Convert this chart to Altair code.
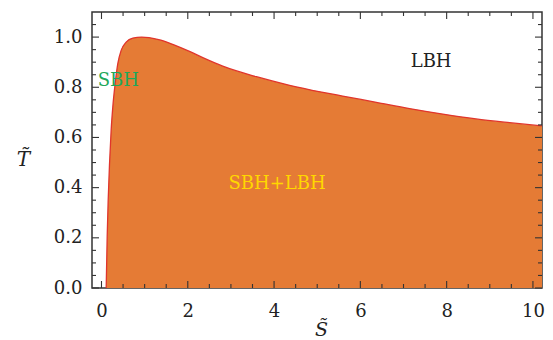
import altair as alt
import pandas as pd

# Curve: reduced entropy S~ and reduced temperature T~
S_vals = [0.109, 0.132, 0.155, 0.185, 0.224, 0.262, 0.317, 0.378, 0.456, 0.572,
          0.726, 0.93, 1.10, 1.27, 1.45, 1.65, 2.04, 2.40, 2.81, 3.59, 4.36, 5.10, 5.59,
          6.37, 7.14, 7.91, 8.68, 9.46, 10.21]
T_vals = [0.0, 0.204, 0.35, 0.49, 0.629, 0.721, 0.815, 0.894, 0.947, 0.980,
          0.996, 1.0, 0.998, 0.992, 0.984, 0.971, 0.943, 0.914, 0.884, 0.842, 0.808,
          0.781, 0.765, 0.740, 0.715, 0.693, 0.674, 0.659, 0.646]

x_major = [0, 2, 4, 6, 8, 10]
x_minor = [v / 2 for v in range(1, 21) if v % 4 != 0]
y_major = [0.0, 0.2, 0.4, 0.6, 0.8, 1.0]
y_minor = [round(v * 0.05, 2) for v in range(1, 22) if v % 4 != 0]

labels = ["SBH", "LBH", "SBH+LBH"]
label_S = [0.39, 7.64, 4.07]
label_T = [0.824, 0.90, 0.413]
label_colors = ["#1fa85a", "#222222", "#ffd700"]

W, H = 450, 276
FONT = "DejaVu Serif"

curve = pd.DataFrame({"S": S_vals, "T": T_vals})
xscale = alt.Scale(domain=[-0.22, 10.21], nice=False, zero=False)
yscale = alt.Scale(domain=[0, 1.1], nice=False, zero=False)

xaxis = alt.Axis(values=x_major, format="d", grid=False, ticks=False, tickSize=0,
                 domain=False, labelPadding=14, labelFont=FONT, labelFontSize=18,
                 labelColor="#222222", title="S\u0303", titleFont=FONT,
                 titleFontSize=19, titleFontStyle="italic", titleFontWeight="normal",
                 titleColor="#222222", titleX=229, titleY=47,
                 titleBaseline="alphabetic", titleAlign="center")
yaxis = alt.Axis(values=y_major, format=".1f", grid=False, ticks=False, tickSize=0,
                 domain=False, labelPadding=10, labelFont=FONT, labelFontSize=18,
                 labelColor="#222222", title="T\u0303", titleFont=FONT,
                 titleFontSize=20, titleFontStyle="italic", titleFontWeight="normal",
                 titleColor="#222222", titleAngle=0, titleX=-69, titleY=153,
                 titleBaseline="alphabetic", titleAlign="center")

base = alt.Chart(curve).encode(
    x=alt.X("S:Q", scale=xscale, axis=xaxis),
    y=alt.Y("T:Q", scale=yscale, axis=yaxis),
)
area = base.mark_area(color="#e57b35", opacity=1, interpolate="monotone", clip=True)
line = base.mark_line(color="#e0352c", strokeWidth=1.3, interpolate="monotone", clip=True)

def xticks(vals, length):
    df = pd.DataFrame({"S": vals})
    b = alt.Chart(df).mark_rule(color="#333333", strokeWidth=1.1)
    bottom = b.encode(x=alt.X("S:Q", scale=xscale, axis=xaxis),
                      y=alt.value(H), y2=alt.value(H - length))
    top = b.encode(x=alt.X("S:Q", scale=xscale, axis=xaxis),
                   y=alt.value(0), y2=alt.value(length))
    return [bottom, top]

def yticks(vals, length):
    df = pd.DataFrame({"T": vals})
    b = alt.Chart(df).mark_rule(color="#333333", strokeWidth=1.1)
    left = b.encode(y=alt.Y("T:Q", scale=yscale, axis=yaxis),
                    x=alt.value(0), x2=alt.value(length))
    right = b.encode(y=alt.Y("T:Q", scale=yscale, axis=yaxis),
                     x=alt.value(W), x2=alt.value(W - length))
    return [left, right]

tick_layers = xticks(x_major, 7) + xticks(x_minor, 4) + yticks(y_major, 7) + yticks(y_minor, 4)

lab_df = pd.DataFrame({"S": label_S, "T": label_T, "label": labels, "c": label_colors})
texts = alt.Chart(lab_df).mark_text(font=FONT, fontSize=18, align="center",
                                     baseline="middle").encode(
    x=alt.X("S:Q", scale=xscale, axis=xaxis),
    y=alt.Y("T:Q", scale=yscale, axis=yaxis),
    text="label:N",
    color=alt.Color("c:N", scale=None),
)

chart = alt.layer(area, line, *tick_layers, texts).properties(
    width=W, height=H,
    autosize=alt.AutoSizeParams(type="none"),
    padding={"left": 92, "top": 12, "right": 11, "bottom": 52},
    background="white",
).configure_view(stroke="#333333", strokeWidth=1.5)

chart.save("out.html", embed_options={"renderer": "svg", "actions": False})
